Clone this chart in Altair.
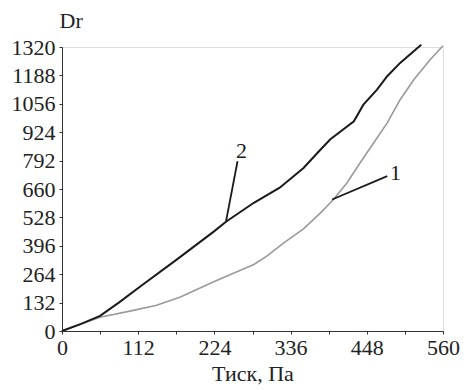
import altair as alt
import pandas as pd

# Curve 2 (black)
x2 = [0, 28, 56, 84, 115, 169, 223, 241, 282, 320, 355, 375, 394, 429, 443, 463, 478, 497, 528]
y2 = [0, 33, 70, 133, 207, 333, 462, 508, 596, 666, 758, 826, 890, 975, 1052, 1122, 1184, 1246, 1331]
# Curve 1 (grey)
x1 = [0, 28, 56, 105, 139, 174, 223, 252, 282, 301, 326, 355, 380, 399, 419, 438, 458, 478, 497, 517, 541, 560]
y1 = [0, 33, 64, 96, 120, 158, 229, 268, 309, 348, 410, 475, 549, 611, 689, 781, 874, 967, 1075, 1168, 1261, 1326]

# Leader lines and labels
lead_x = [241, 258, 397, 478]
lead_y = [508, 789, 611, 720]
lead_id = ["2", "2", "1", "1"]
lab_text = ["2", "1"]
lab_x = [264, 490]
lab_y = [836, 735]

x_ticks = [0, 56, 112, 168, 224, 280, 336, 392, 448, 504, 560]
y_ticks = [0, 132, 264, 396, 528, 660, 792, 924, 1056, 1188, 1320]

FONT = "Liberation Serif"

d1 = pd.DataFrame({"x": x1, "y": y1})
d2 = pd.DataFrame({"x": x2, "y": y2})
dl = pd.DataFrame({"x": lead_x, "y": lead_y, "id": lead_id})
dt = pd.DataFrame({"x": lab_x, "y": lab_y, "t": lab_text})

xs = alt.Scale(domain=[0, 560], nice=False, zero=False)
ys = alt.Scale(domain=[0, 1320], nice=False, zero=False)

xax = alt.Axis(values=x_ticks, title="Тиск, Па", grid=False, format="d",
               labelExpr="datum.value % 112 == 0 ? datum.label : ''",
               labelOverlap=False, labelFlush=False,
               labelFont=FONT, labelFontSize=22, labelColor="#222",
               titleFont=FONT, titleFontSize=22, titleFontWeight="normal", titleColor="#222",
               domainColor="#333", tickColor="#333", tickSize=3, labelPadding=3, titlePadding=5)
yax = alt.Axis(values=y_ticks, title="Dr", grid=False, format="d",
               labelOverlap=False, labelFlush=False,
               labelFont=FONT, labelFontSize=22, labelColor="#222",
               titleFont=FONT, titleFontSize=22, titleFontWeight="normal", titleColor="#222",
               titleAngle=0, titleAlign="left", titleBaseline="alphabetic", titleX=-3, titleY=-20,
               domainColor="#333", tickColor="#333", tickSize=3, labelPadding=4)

X = alt.X("x:Q", scale=xs, axis=xax)
Y = alt.Y("y:Q", scale=ys, axis=yax)

base1 = alt.Chart(d1).mark_line(color="#9a9a9a", strokeWidth=1.6).encode(x=X, y=Y)
base2 = alt.Chart(d2).mark_line(color="#1a1a1a", strokeWidth=2).encode(x=X, y=Y)
leads = alt.Chart(dl).mark_line(color="#1a1a1a", strokeWidth=1.8).encode(x=X, y=Y, detail="id:N")
labels = alt.Chart(dt).mark_text(font=FONT, fontSize=22, color="#1a1a1a").encode(x=X, y=Y, text="t:N")

chart = alt.layer(base1, base2, leads, labels).properties(
    width=381, height=284,
    autosize=alt.AutoSizeParams(type="none"),
    padding={"left": 62, "top": 47, "right": 23, "bottom": 59},
).configure_view(strokeOpacity=0, strokeWidth=0).configure(background="white", font=FONT).configure_axis(
    labelFont=FONT, titleFont=FONT, labelOverlap=False
)

chart.save("out.html", embed_options={"renderer": "svg", "actions": False})
